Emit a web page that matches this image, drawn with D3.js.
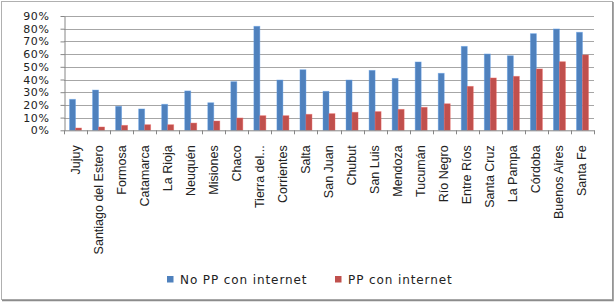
<!DOCTYPE html>
<html>
<head>
<meta charset="utf-8">
<script src="https://cdn.jsdelivr.net/npm/d3@7"></script>
<style>
  body { margin: 0; background: #fff; }
  svg { display: block; }
</style>
</head>
<body>
<div id="graphicContainer"></div>
<script>

const provinces = ["Jujuy", "Santiago del Estero", "Formosa", "Catamarca", "La Rioja", "Neuquén", "Misiones", "Chaco", "Tierra del...", "Corrientes", "Salta", "San Juan", "Chubut", "San Luis", "Mendoza", "Tucumán", "Río Negro", "Entre Ríos", "Santa Cruz", "La Pampa", "Córdoba", "Buenos Aires", "Santa Fe"]

const noPP = [24.4, 31.7, 18.9, 16.8, 20.5, 31.0, 21.7, 38.3, 81.9, 39.6, 47.7, 30.7, 39.6, 47.2, 40.9, 53.8, 44.9, 66.1, 60.1, 58.7, 76.1, 79.8, 77.2]

const pp = [1.8, 2.6, 3.9, 4.4, 4.4, 5.7, 7.3, 9.7, 11.5, 11.5, 12.6, 13.1, 14.2, 14.7, 16.5, 18.1, 20.9, 34.6, 41.2, 42.5, 48.3, 54.0, 59.3]

const seriesNames = ["No PP con internet", "PP con internet"]

const yTicks = [0, 10, 20, 30, 40, 50, 60, 70, 80, 90]

const colors = { "No PP con internet": "#4f81bd", "PP con internet": "#c0504d" }

const width = 615
const height = 302
const marginleft = 64
const margintop = 16
const marginright = 21
const plotBottom = 130.3

const datum = provinces.map((p, i) => ({ name: p, "No PP con internet": noPP[i], "PP con internet": pp[i] }))

const svg = d3.select("#graphicContainer")
  .append("svg")
  .attr("width", width)
  .attr("height", height)

// outer frame
svg.append("rect")
  .attr("x", 1.5).attr("y", 1.5)
  .attr("width", 611).attr("height", 298)
  .attr("fill", "#fff")
  .attr("stroke", "#b0b0b0")
  .attr("stroke-width", 1)

svg.append("path")
  .attr("d", "M613,2V300.5H2")
  .attr("fill", "none")
  .attr("stroke", "#8c8c8c")
  .attr("stroke-width", 1.5)

const x = d3.scaleBand()
  .domain(provinces)
  .range([marginleft, width - marginright])

const x1 = d3.scaleBand()
  .domain(seriesNames)
  .range([0, x.bandwidth()])
  .paddingOuter(0.92)

const y = d3.scaleLinear()
  .domain([0, 90])
  .range([plotBottom, margintop])

// gridlines
svg.append("g")
  .selectAll("line")
  .data(yTicks.filter(d => d > 0))
  .enter()
  .append("line")
  .attr("x1", marginleft)
  .attr("x2", width - marginright)
  .attr("y1", d => Math.round(y(d)) + 0.5)
  .attr("y2", d => Math.round(y(d)) + 0.5)
  .attr("stroke", "#a6a6a6")
  .attr("stroke-width", 1)

// y axis
const yAxis = svg.append("g")
  .attr("transform", `translate(${marginleft + 0.5},0)`)
  .call(d3.axisLeft(y).tickValues(yTicks).tickSize(4).tickSizeOuter(0).tickFormat(d => d + "%").tickPadding(11))

yAxis.select(".domain").attr("stroke", "#868686")
yAxis.selectAll(".tick line").attr("stroke", "#868686")
yAxis.selectAll(".tick text")
  .attr("fill", "#222")
  .style("font-family", "'DejaVu Sans', sans-serif")
  .style("font-size", "11px")
  .style("letter-spacing", "0.6px")

// bars
for (const s of seriesNames) {

  svg.append("g")
    .selectAll("rect")
    .data(datum)
    .enter()
    .append("rect")
    .attr("x", d => x(d.name) + x1(s))
    .attr("y", d => y(d[s]))
    .attr("width", x1.bandwidth())
    .attr("height", d => plotBottom - y(d[s]))
    .attr("fill", colors[s])
    .attr("stroke", d3.color(colors[s]).brighter(0.6))
    .attr("stroke-opacity", 0.5)
    .attr("stroke-width", 0.8)

}

// x axis
const xAxis = svg.append("g")
  .attr("transform", `translate(0,${plotBottom})`)
  .call(d3.axisBottom(x).tickSize(0).tickSizeOuter(0).tickFormat(""))

xAxis.select(".domain").attr("stroke", "#868686")

svg.append("g")
  .selectAll("line")
  .data(provinces.concat(["end"]))
  .enter()
  .append("line")
  .attr("x1", (d, i) => Math.round(marginleft + i * x.step()) + 0.5)
  .attr("x2", (d, i) => Math.round(marginleft + i * x.step()) + 0.5)
  .attr("y1", plotBottom)
  .attr("y2", plotBottom + 4)
  .attr("stroke", "#868686")

svg.append("g")
  .selectAll("text")
  .data(provinces)
  .enter()
  .append("text")
  .attr("transform", d => `translate(${x(d) + x.bandwidth() / 2 + 4},${plotBottom + 15}) rotate(-90)`)
  .attr("text-anchor", "end")
  .attr("fill", "#222")
  .style("font-family", "'Liberation Sans Narrow', 'Liberation Sans', sans-serif")
  .style("font-size", "12.5px")
  .text(d => d)

// legend
const legendItems = [
  { name: seriesNames[0], x: 167 },
  { name: seriesNames[1], x: 335 }
]

const legend = svg.append("g")
  .selectAll("g")
  .data(legendItems)
  .enter()
  .append("g")
  .attr("transform", d => `translate(${d.x},276)`)

legend.append("rect")
  .attr("width", 6.5)
  .attr("height", 6.5)
  .attr("fill", d => colors[d.name])

legend.append("text")
  .attr("x", 13)
  .attr("y", 7.5)
  .attr("fill", "#222")
  .style("font-family", "'DejaVu Sans', sans-serif")
  .style("font-size", "12px")
  .style("letter-spacing", "0.9px")
  .text(d => d.name)

</script>
</body>
</html>
